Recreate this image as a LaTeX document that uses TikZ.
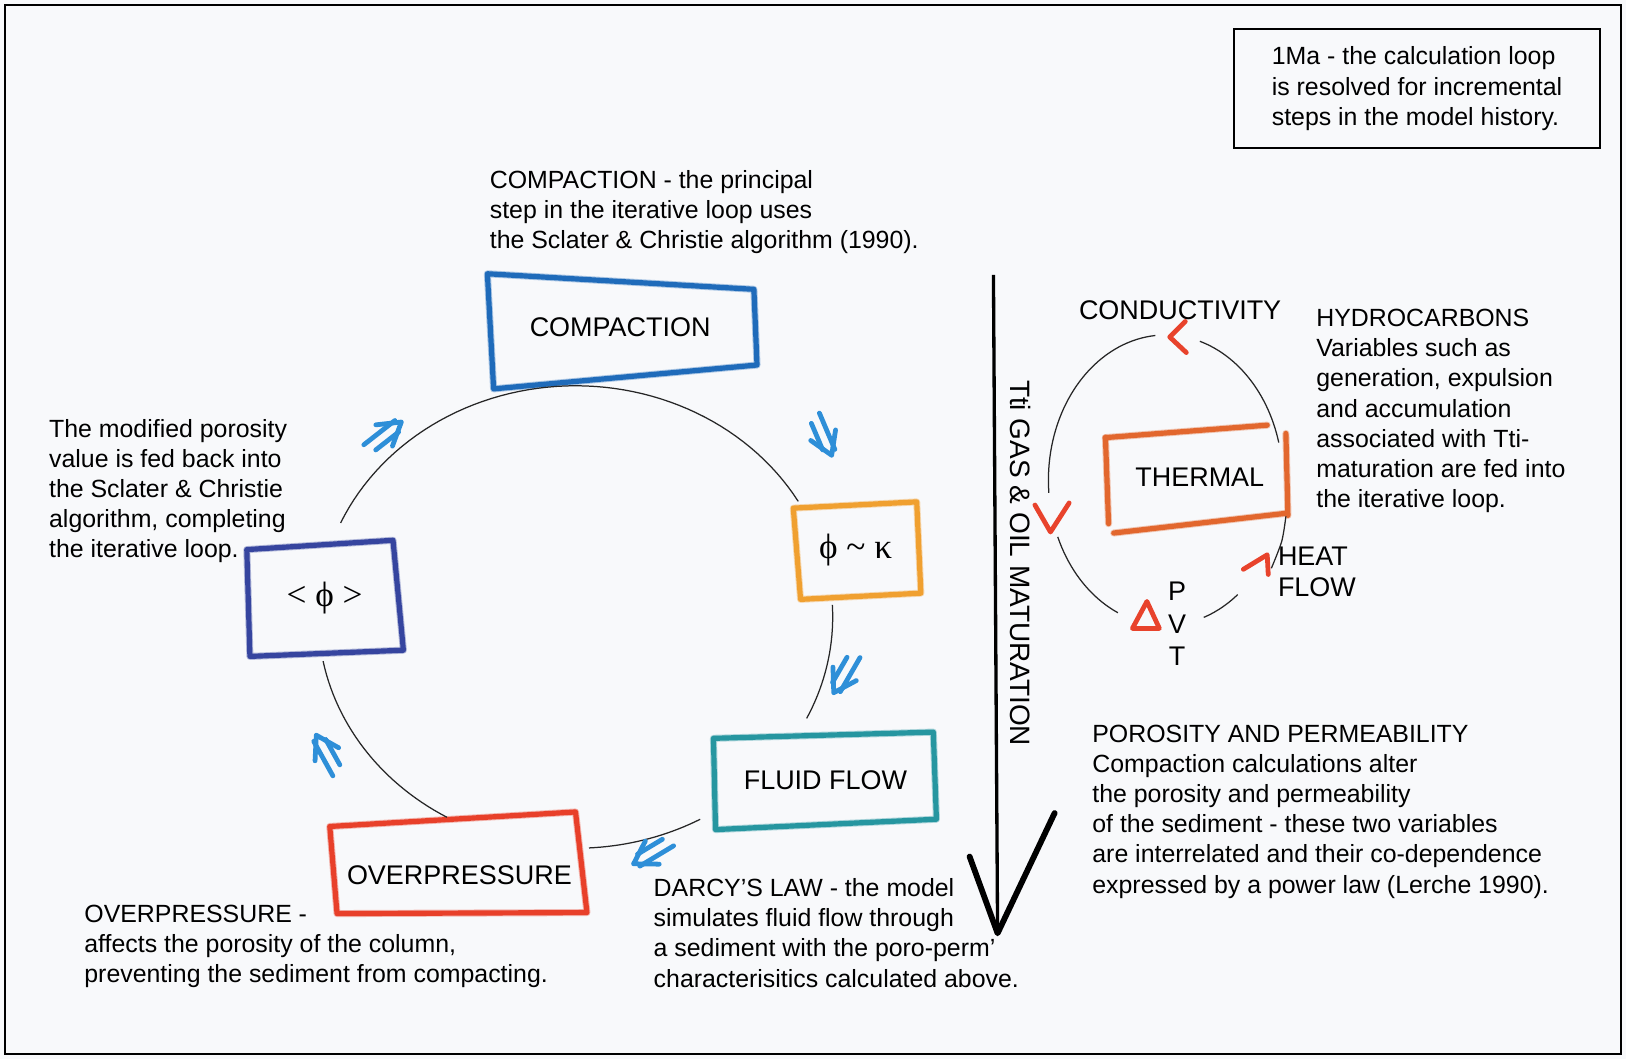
\documentclass[tikz,border=0pt]{standalone}
\usepackage{fontspec}
\setmainfont{Liberation Sans}
\newfontfamily\greekfont{Liberation Serif}
\definecolor{bgc}{HTML}{F8F9FB}
\definecolor{bluemkc}{HTML}{2E8FD8}
\definecolor{compc}{HTML}{1F6BBA}
\definecolor{phic}{HTML}{36459F}
\definecolor{orangec}{HTML}{F0A030}
\definecolor{tealc}{HTML}{2696A0}
\definecolor{redc}{HTML}{E8402A}
\definecolor{thermc}{HTML}{E2672E}
\definecolor{redmk}{HTML}{E8432C}
\begin{document}
\begin{tikzpicture}[x=0.5pt,y=-0.5pt,
  note/.style={anchor=north west, align=left, inner sep=0pt, font=\fontsize{12}{14.5}\selectfont},
  lbl/.style={inner sep=0pt, font=\fontsize{13}{15.5}\selectfont},
  greeklbl/.style={inner sep=0pt, font=\greekfont\fontsize{17}{20}\selectfont},
  crayon/.style={line width=2.5pt, line cap=round, line join=round},
  crayonlite/.style={line width=3.4pt, line cap=round, line join=round, opacity=0.35},
  bluemk/.style={draw=bluemkc, line width=2.3pt, line cap=round, line join=round},
  redmark/.style={draw=redmk, line width=2.3pt, line cap=round, line join=round},
  loopline/.style={line width=0.6pt, black!85},
  dblarrow/.pic={
    \draw[bluemk] (0,0) -- (-21,-13) (0,0) -- (-21,13);
    \draw[bluemk] (-4,-5) -- (-42,-5) (-8,6) -- (-36,6);
  }]
\fill[bgc] (0,0) rectangle (1568,1021);
\useasboundingbox (0,0) rectangle (1568,1021);
\draw[line width=1pt] (5,5) rectangle (1563,1016);

% top-right box
\node[draw, line width=1pt, minimum width=176.5pt, minimum height=57.5pt, inner sep=0pt,
      align=left, font=\fontsize{12}{14.7}\selectfont] (info) at (1366.5,85.5)
  {1Ma - the calculation loop\\is resolved for incremental\\steps in the model history.};

% notes
\node[note] (ncomp) at (472,164) {COMPACTION - the principal\\step in the iterative loop uses\\the Sclater \& Christie algorithm (1990).};
\node[note] (nleft) at (47,404) {The modified porosity\\value is fed back into\\the Sclater \& Christie\\algorithm, completing\\the iterative loop.};
\node[note] (nover) at (81,872) {OVERPRESSURE -\\affects the porosity of the column,\\preventing the sediment from compacting.};
\node[note] (ndarcy) at (630,847) {DARCY’S LAW - the model\\simulates fluid flow through\\a sediment with the poro-perm’\\characterisitics calculated above.};
\node[note] (nporo) at (1053,699) {POROSITY AND PERMEABILITY\\Compaction calculations alter\\the porosity and permeability\\of the sediment - these two variables\\are interrelated and their co-dependence\\expressed by a power law (Lerche 1990).};
\node[note] (nhydro) at (1269,298) {HYDROCARBONS\\Variables such as\\generation, expulsion\\and accumulation\\associated with Tti-\\maturation are fed into\\the iterative loop.};

% main loop boxes
\draw[crayonlite, compc] (470,264) -- (727,279) -- (730,352) -- (476,375) -- cycle;
\draw[crayon, compc] (470,264) -- (727,279) -- (730,352) -- (476,375) -- cycle;
\node[lbl] (comp) at (598,316) {COMPACTION};
\draw[crayonlite, orangec] (765,490) -- (884,484) -- (888,572) -- (772,578) -- cycle;
\draw[crayon, orangec] (765,490) -- (884,484) -- (888,572) -- (772,578) -- cycle;
\node[greeklbl] (phik) at (825,530) {ϕ \textasciitilde{} κ};
\draw[crayonlite, phic] (238,530) -- (379,521) -- (389,627) -- (241,633) -- cycle;
\draw[crayon, phic] (238,530) -- (379,521) -- (389,627) -- (241,633) -- cycle;
\node[greeklbl] (phim) at (313,577) {< ϕ >};
\draw[crayonlite, tealc] (688,712) -- (900,706) -- (903,790) -- (690,800) -- cycle;
\draw[crayon, tealc] (688,712) -- (900,706) -- (903,790) -- (690,800) -- cycle;
\node[lbl] (fluid) at (796,752) {FLUID FLOW};
\draw[crayonlite, redc] (318,797) -- (555,783) -- (566,880) -- (325,881) -- cycle;
\draw[crayon, redc] (318,797) -- (555,783) -- (566,880) -- (325,881) -- cycle;
\node[lbl] (over) at (443,844) {OVERPRESSURE};

% main loop arcs
\draw[loopline] plot[domain=30:156, samples=60] ({555+248*cos(\x)},{595-223*sin(\x)});
\draw[loopline] plot[domain=-26:3, samples=20] ({555+248*cos(\x)},{595-223*sin(\x)});
\draw[loopline] plot[domain=-87:-61, samples=20] ({555+248*cos(\x)},{595-223*sin(\x)});
\draw[loopline] plot[domain=191:240, samples=30] ({555+248*cos(\x)},{595-223*sin(\x)});

% blue arrow marks
\pic[rotate=38] at (387,407) {dblarrow};
\pic[rotate=-67] at (802,439) {dblarrow};
\pic[rotate=-120] at (804,668) {dblarrow};
\pic[rotate=-149] at (611,833) {dblarrow};
\pic[rotate=119] at (305,709) {dblarrow};

% vertical maturation arrow
\coordinate (mtop) at (958,265);
\coordinate (mtip) at (962,900);
\coordinate (mla) at (935,826);
\coordinate (mra) at (1017,784);
\draw[line width=1.6pt] (mtop) -- (mtip);
\draw[line width=2.8pt, line cap=round, line join=round] (mla) -- (mtip) -- (mra);
\node[rotate=-90, inner sep=0pt, font=\fontsize{13.5}{16}\selectfont] (mat) at (984,543) {Tti GAS \& OIL MATURATION};

% thermal loop
\draw[crayonlite, thermc] (1066,422) -- (1222,410);
\draw[crayonlite, thermc] (1066,422) -- (1069,505);
\draw[crayonlite, thermc] (1074,514) -- (1240,495);
\draw[crayonlite, thermc] (1240,418) -- (1242,497);
\draw[crayon, thermc] (1066,422) -- (1222,410);
\draw[crayon, thermc] (1066,422) -- (1069,505);
\draw[crayon, thermc] (1074,514) -- (1240,495);
\draw[crayon, thermc] (1240,418) -- (1242,497);
\node[lbl] (therm) at (1157,460) {THERMAL};
\draw[loopline] plot[domain=95:185, samples=40] ({1124+113*cos(\x)},{463-140*sin(\x)});
\draw[loopline] plot[domain=15:73, samples=30] ({1124+113*cos(\x)},{463-140*sin(\x)});
\draw[loopline] plot[domain=203:246, samples=20] ({1124+113*cos(\x)},{463-140*sin(\x)});
\draw[loopline] plot[domain=-71:-52, samples=15] ({1124+113*cos(\x)},{463-140*sin(\x)});
\draw[loopline] plot[smooth] coordinates {(1240,498) (1236,522) (1226,548)};
\node[lbl] (cond) at (1138,299) {CONDUCTIVITY};
\node[lbl, anchor=north west, align=left, font=\fontsize{13}{15}\selectfont] (heat) at (1232,527) {HEAT\\FLOW};
\node[lbl, anchor=north, align=center, font=\fontsize{13}{15.7}\selectfont] (pvt) at (1135,561) {P\\V\\T};

% red direction marks
\draw[redmark] (1143,310) -- (1128,325) -- (1144,340);
\draw[redmark] (998,487) -- (1013,513) -- (1031,485);
\draw[redmark] (1106,580) -- (1092,606) -- (1118,606) -- cycle;
\draw[redmark] (1199,549) -- (1222,535) -- (1223,554);
\end{tikzpicture}
\end{document}
